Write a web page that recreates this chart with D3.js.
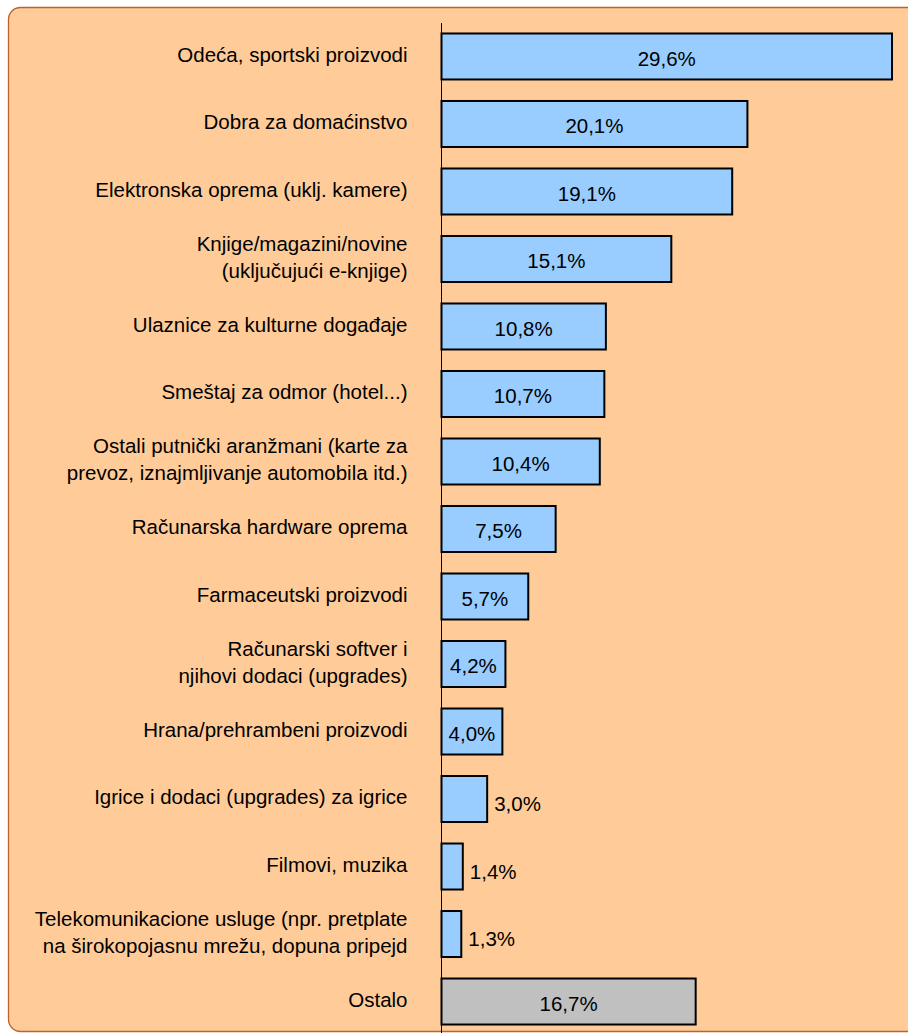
<!DOCTYPE html>
<html>
<head>
<meta charset="utf-8">
<script src="https://cdn.jsdelivr.net/npm/d3@7"></script>
<style>
  html, body { margin: 0; padding: 0; background: #ffffff; }
  svg { display: block; font-family: "Liberation Sans", Arial, sans-serif; }
</style>
</head>
<body>
<div id="chart"></div>
<script>
// Data
const categories = [
    "Odeća, sportski proizvodi",
    "Dobra za domaćinstvo",
    "Elektronska oprema (uklj. kamere)",
    "Knjige/magazini/novine\n(uključujući e-knjige)",
    "Ulaznice za kulturne događaje",
    "Smeštaj za odmor (hotel...)",
    "Ostali putnički aranžmani (karte za\nprevoz, iznajmljivanje automobila itd.)",
    "Računarska hardware oprema",
    "Farmaceutski proizvodi",
    "Računarski softver i\nnjihovi dodaci (upgrades)",
    "Hrana/prehrambeni proizvodi",
    "Igrice i dodaci (upgrades) za igrice",
    "Filmovi, muzika",
    "Telekomunikacione usluge (npr. pretplate\nna širokopojasnu mrežu, dopuna pripejd",
    "Ostalo"
];
const shares = [29.6, 20.1, 19.1, 15.1, 10.8, 10.7, 10.4, 7.5, 5.7, 4.2, 4.0, 3.0, 1.4, 1.3, 16.7];
const otherCategory = "Ostalo";

// Layout
const width = 908;
const height = 1033;
const axisX = 441.5;
const barRight = 892;
const fontSize = "20.5px";

function renderBarChart() {
    const svg = d3.select("#chart")
        .append("svg")
        .attr("width", width)
        .attr("height", height);

    // panel background
    svg.append("rect")
        .attr("x", 8.5)
        .attr("y", 7.5)
        .attr("width", width + 20)
        .attr("height", height - 9)
        .attr("rx", 12)
        .attr("fill", "#ffcc99")
        .attr("stroke", "#c0602a")
        .attr("stroke-width", 1.3);

    const data = categories.map((c, i) => ({ category: c, value: shares[i] }));

    const y = d3.scaleBand()
        .domain(categories)
        .range([22.75, 1035.25])
        .paddingInner(0.3185)
        .paddingOuter(0.159);

    const x = d3.scaleLinear()
        .domain([0, d3.max(shares)])
        .range([axisX, barRight]);

    const fmt = v => d3.format(".1f")(v).replace(".", ",") + "%";

    // bars
    svg.selectAll(".bar")
        .data(data)
        .enter()
        .append("rect")
        .attr("class", "bar")
        .attr("x", x(0))
        .attr("y", d => y(d.category))
        .attr("width", d => x(d.value) - x(0))
        .attr("height", y.bandwidth())
        .attr("fill", d => d.category === otherCategory ? "#c0c0c0" : "#99ccff")
        .attr("stroke", "#000")
        .attr("stroke-width", 2);

    // category axis
    const axis = svg.append("g")
        .attr("transform", `translate(${axisX},0)`)
        .call(d3.axisLeft(y).tickSize(0).tickSizeOuter(0).tickPadding(34));

    axis.select(".domain")
        .attr("d", `M0,23V${height}`)
        .attr("stroke", "#000")
        .attr("stroke-width", 1);

    axis.selectAll(".tick text")
        .attr("fill", "#000")
        .style("font-size", fontSize)
        .style("font-family", "'Liberation Sans', Arial, sans-serif")
        .each(function(d) {
            const lines = d.split("\n");
            const t = d3.select(this);
            const xPos = t.attr("x");
            t.text(null).attr("dy", null);
            const lh = 27;
            lines.forEach((line, i) => {
                t.append("tspan")
                    .attr("x", xPos)
                    .attr("y", (i - (lines.length - 1) / 2) * lh - 2)
                    .attr("dy", "0.35em")
                    .text(line);
            });
        });

    // value labels
    svg.selectAll(".value")
        .data(data)
        .enter()
        .append("text")
        .attr("class", "value")
        .style("font-size", fontSize)
        .attr("fill", "#000")
        .attr("dy", "0.35em")
        .each(function(d) {
            const t = d3.select(this).text(fmt(d.value));
            const w = this.getComputedTextLength();
            const barW = x(d.value) - x(0);
            const cy = y(d.category) + y.bandwidth() / 2 + 2;
            if (w + 8 < barW) {
                t.attr("x", x(0) + barW / 2).attr("y", cy).attr("text-anchor", "middle");
            } else {
                t.attr("x", x(d.value) + 7).attr("y", cy + 3).attr("text-anchor", "start");
            }
        });
}

renderBarChart();
</script>
</body>
</html>
